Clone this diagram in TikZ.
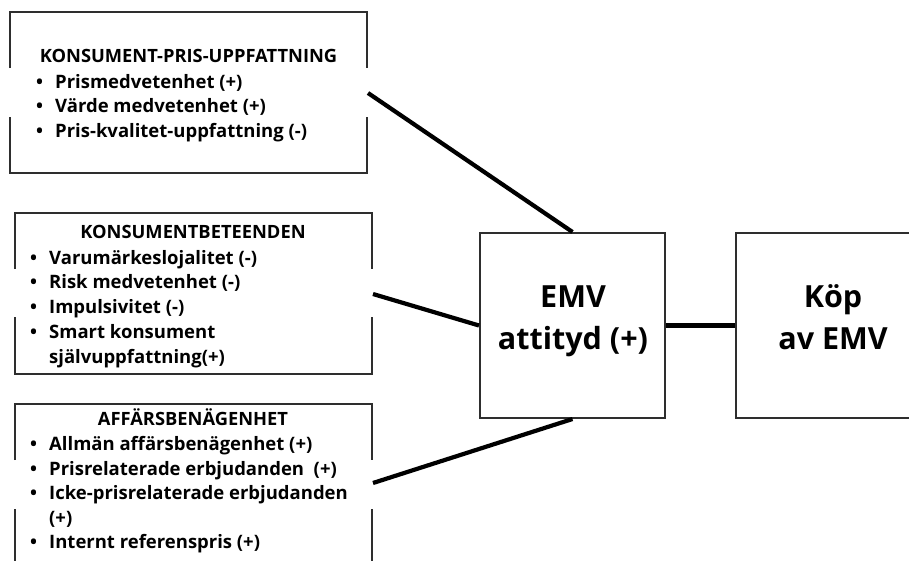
\documentclass[tikz,border=0pt]{standalone}
\usepackage{fontspec}
\setmainfont{Open Sans}
\begin{document}
\begin{tikzpicture}[x=1pt,y=-1pt,
  frame/.style={draw=black!82,line width=2pt},
  link/.style={draw=black,line width=4.2pt},
  ttl/.style={inner sep=0pt,anchor=base,font=\bfseries\fontsize{18.3}{20}\selectfont},
  itm/.style={inner sep=0pt,anchor=base west,font=\bfseries\fontsize{18.5}{20}\selectfont},
  big/.style={inner sep=0pt,anchor=base,align=center,font=\bfseries\fontsize{30.5}{41.5}\selectfont}]
\useasboundingbox (0,0) rectangle (909,560);
\clip (0,0) rectangle (909,560);
% box 1
\draw[frame] (10,68) -- (10,12) -- (367,12) -- (367,68);
\draw[frame] (10,117) -- (10,173) -- (367,173) -- (367,117);
% box 2
\draw[frame] (15,269) -- (15,213) -- (372,213) -- (372,269);
\draw[frame] (15,317) -- (15,374) -- (372,374) -- (372,317);
% box 3
\draw[frame] (15,460) -- (15,404) -- (372,404) -- (372,460);
\draw[frame] (15,509) -- (15,570);
\draw[frame] (372,509) -- (372,570);
% texts box 1
\node[ttl] (t1) at (188.5,62.5) {KONSUMENT-PRIS-UPPFATTNING};
\node[itm] (a1) at (36,88) {\makebox[19pt][l]{•}Prismedvetenhet (+)};
\node[itm] (a2) at (36,112.5) {\makebox[19pt][l]{•}Värde medvetenhet (+)};
\node[itm] (a3) at (36,137) {\makebox[19pt][l]{•}Pris-kvalitet-uppfattning (-)};
% texts box 2
\node[ttl] (t2) at (193,238) {KONSUMENTBETEENDEN};
\node[itm] (b1) at (30,264) {\makebox[19pt][l]{•}Varumärkeslojalitet (-)};
\node[itm] (b2) at (30,288.5) {\makebox[19pt][l]{•}Risk medvetenhet (-)};
\node[itm] (b3) at (30,313.5) {\makebox[19pt][l]{•}Impulsivitet (-)};
\node[itm] (b4) at (30,338) {\makebox[19pt][l]{•}Smart konsument};
\node[itm] (b5) at (49,363) {självuppfattning(+)};
% texts box 3
\node[ttl] (t3) at (193,425.5) {AFFÄRSBENÄGENHET};
\node[itm] (c1) at (30,450.5) {\makebox[19pt][l]{•}Allmän affärsbenägenhet (+)};
\node[itm] (c2) at (30,475) {\makebox[19pt][l]{•}Prisrelaterade erbjudanden\ \ (+)};
\node[itm] (c3) at (30,499.5) {\makebox[19pt][l]{•}Icke-prisrelaterade erbjudanden};
\node[itm] (c4) at (49,524) {(+)};
\node[itm] (c5) at (30,548.5) {\makebox[19pt][l]{•}Internt referenspris (+)};
% main boxes
\node[frame,minimum width=185pt,minimum height=185pt,inner sep=0pt] (emv) at (572.5,325.5) {};
\node[big] (emvt) at (573,349) {EMV\\attityd (+)};
\node[frame,minimum width=194pt,minimum height=185pt,inner sep=0pt] (kop) at (833,325.5) {};
\node[big] (kopt) at (833,349) {Köp\\av EMV};
% connectors
\coordinate (s1) at (368,93);
\coordinate (s2) at (373,294);
\coordinate (s3) at (373,483);
\draw[link] (s1) -- (emv.north);
\draw[link] (s2) -- (emv.west);
\draw[link] (s3) -- (emv.south);
\draw[link] (emv.east) -- (kop.west);
\end{tikzpicture}
\end{document}
